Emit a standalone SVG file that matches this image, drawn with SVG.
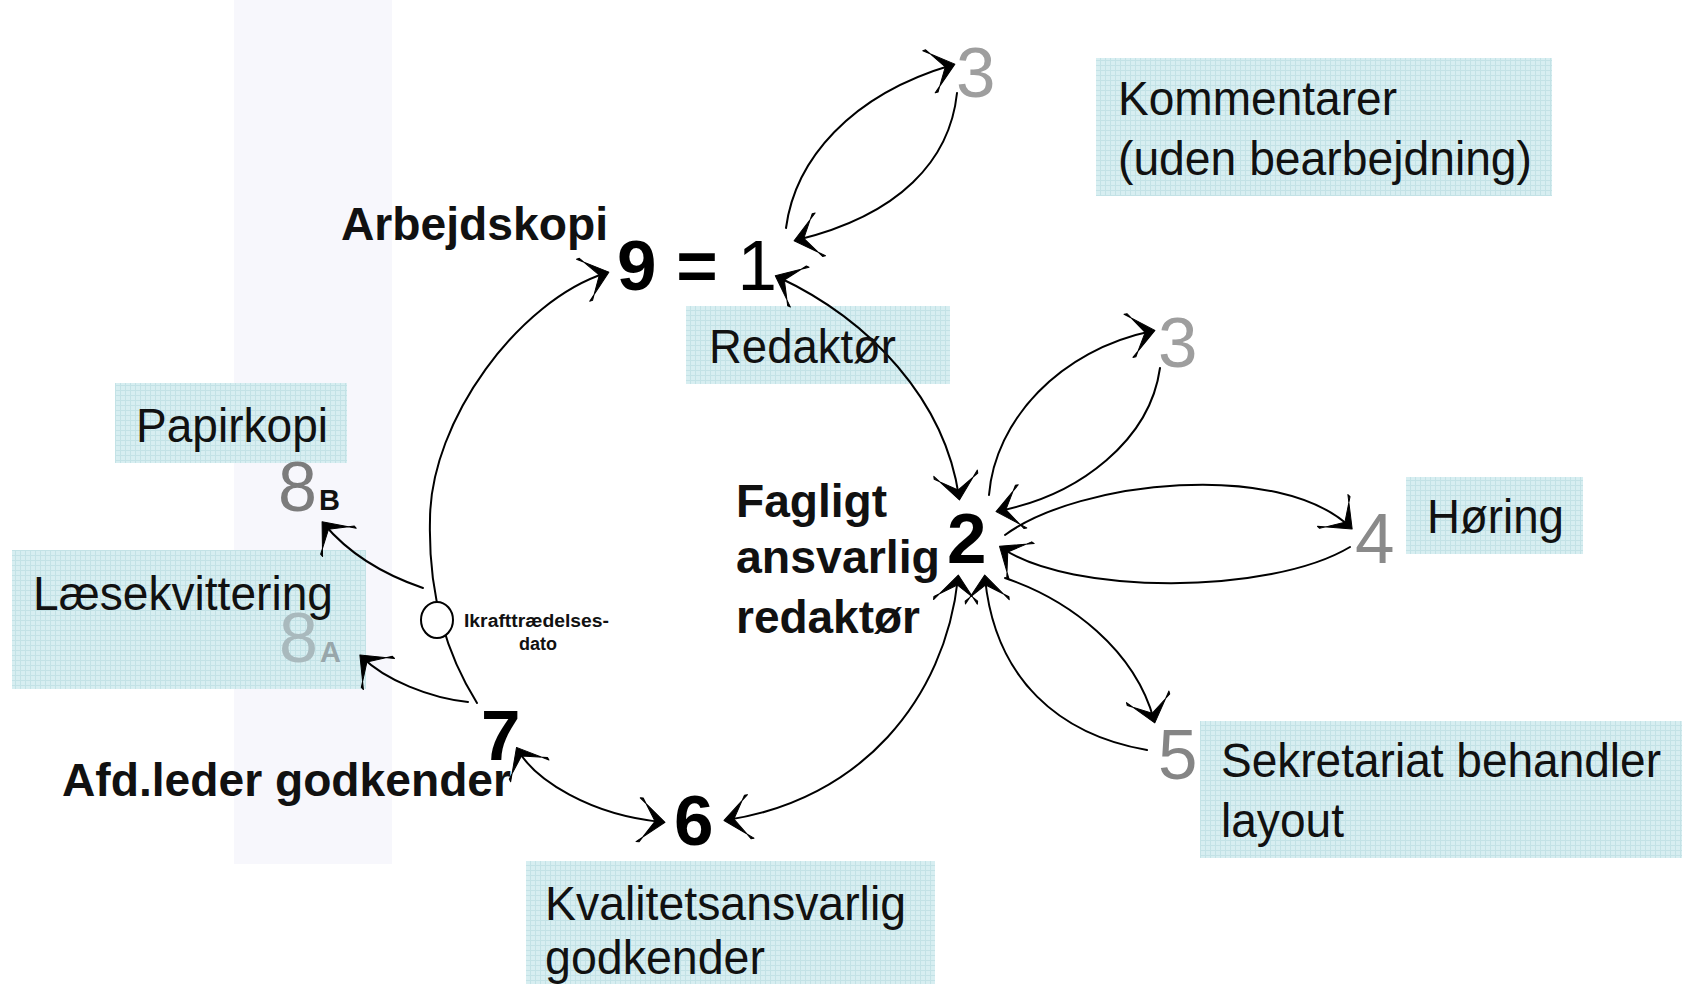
<svg xmlns="http://www.w3.org/2000/svg" width="1682" height="984" viewBox="0 0 1682 984">
<defs>
<pattern id="grid" width="5" height="5" patternUnits="userSpaceOnUse">
<rect width="5" height="5" fill="#d7eef1"/>
<path d="M0 0.5H5M0.5 0V5" stroke="#c3e2e6" stroke-width="1"/>
</pattern>
<marker id="ah" markerWidth="1" markerHeight="1" orient="auto-start-reverse" markerUnits="userSpaceOnUse" overflow="visible">
<path d="M-24 -22 L3 0 L-24 22 L-21 22 L-7 0 L-21 -22 Z" fill="#000" stroke="#000" stroke-width="1" stroke-linejoin="round"/>
</marker>
<style>
.t{font-family:"Liberation Sans",Arial,Helvetica,sans-serif;fill:#111;}
.reg{font-size:49px;}
.bold{font-size:46px;font-weight:bold;}
.big{font-size:71px;font-weight:bold;fill:#000;}
.gray{font-size:71px;fill:#9e9e9e;}
.box{fill:url(#grid);}
.c{fill:none;stroke:#000;stroke-width:2;stroke-linecap:round;}
</style>
</defs>
<rect width="1682" height="984" fill="#fff"/>
<rect x="234" y="0" width="158" height="864" fill="#f7f7fc"/>

<g id="boxes">
<rect id="box-redaktor" class="box" x="686" y="306" width="264" height="78"/>
<rect id="box-kommentarer" class="box" x="1096" y="58" width="456" height="138"/>
<rect id="box-horing" class="box" x="1406" y="477" width="177" height="77"/>
<rect id="box-sekretariat" class="box" x="1200" y="721" width="482" height="137"/>
<rect id="box-kvalitet" class="box" x="526" y="861" width="409" height="123"/>
<rect id="box-papirkopi" class="box" x="115" y="383" width="232" height="80"/>
<rect id="box-laese" class="box" x="12" y="550" width="354" height="139"/>
</g>

<g id="connectors">
<path class="c" d="M786 228 C795 160 850 95 952 65" marker-end="url(#ah)"/>
<path class="c" d="M957 93 C950 160 900 215 797 240" marker-end="url(#ah)"/>
<path class="c" d="M778 277 C870 320 945 400 959 497" stroke-width="1.6" marker-start="url(#ah)" marker-end="url(#ah)"/>
<path class="c" d="M477 703 C450 660 428 600 430 520 C430 420 520 300 606 273" marker-end="url(#ah)"/>
<path class="c" d="M423 588 C385 575 350 555 324 524" marker-end="url(#ah)"/>
<path class="c" d="M468 702 C430 698 385 680 362 657" marker-end="url(#ah)"/>
<path class="c" d="M518 750 C535 780 590 815 662 822" marker-start="url(#ah)" marker-end="url(#ah)"/>
<path class="c" d="M727 820 C860 800 945 700 958 578" marker-start="url(#ah)" marker-end="url(#ah)"/>
<path class="c" d="M989 495 C995 420 1060 350 1152 331" marker-end="url(#ah)"/>
<path class="c" d="M1160 368 C1150 440 1080 495 999 511" marker-end="url(#ah)"/>
<path class="c" d="M1005 535 C1080 480 1280 460 1350 527" marker-end="url(#ah)"/>
<path class="c" d="M1350 547 C1270 595 1070 595 1002 548" marker-end="url(#ah)"/>
<path class="c" d="M1005 578 C1070 600 1135 650 1154 720" marker-end="url(#ah)"/>
<path class="c" d="M1147 750 C1060 735 995 680 985 578" marker-end="url(#ah)"/>
</g>

<g id="node-1-9">
<text class="t bold" x="341" y="240" textLength="267" lengthAdjust="spacingAndGlyphs">Arbejdskopi</text>
<text class="t big" x="617" y="290">9 =<tspan font-weight="normal"> 1</tspan></text>
</g>

<g id="node-redaktor">
<text class="t reg" x="709" y="363" textLength="187" lengthAdjust="spacingAndGlyphs">Redaktør</text>
</g>

<g id="node-3-top">
<text class="t gray" x="956" y="97">3</text>
</g>

<g id="node-kommentarer">
<text class="t reg" x="1118" y="115" textLength="279" lengthAdjust="spacingAndGlyphs">Kommentarer</text>
<text class="t reg" x="1118" y="175" textLength="414" lengthAdjust="spacingAndGlyphs">(uden bearbejdning)</text>
</g>

<g id="node-2">
<text class="t bold" x="736" y="517" textLength="151" lengthAdjust="spacingAndGlyphs">Fagligt</text>
<text class="t bold" x="736" y="573" textLength="204" lengthAdjust="spacingAndGlyphs">ansvarlig</text>
<text class="t bold" x="736" y="633" textLength="184" lengthAdjust="spacingAndGlyphs">redaktør</text>
<text class="t big" x="947" y="563">2</text>
</g>

<g id="node-3-mid">
<text class="t gray" x="1158" y="367">3</text>
</g>

<g id="node-4">
<text class="t gray" x="1355" y="563" style="fill:#8a8a8a">4</text>
<text class="t reg" x="1427" y="533" textLength="137" lengthAdjust="spacingAndGlyphs">Høring</text>
</g>

<g id="node-5">
<text class="t gray" x="1158" y="779" style="fill:#858585">5</text>
<text class="t reg" x="1221" y="777" textLength="440" lengthAdjust="spacingAndGlyphs">Sekretariat behandler</text>
<text class="t reg" x="1221" y="837" textLength="123" lengthAdjust="spacingAndGlyphs">layout</text>
</g>

<g id="node-6">
<text class="t big" x="674" y="845">6</text>
<text class="t reg" x="545" y="920" textLength="361" lengthAdjust="spacingAndGlyphs">Kvalitetsansvarlig</text>
<text class="t reg" x="545" y="974" textLength="220" lengthAdjust="spacingAndGlyphs">godkender</text>
</g>

<g id="node-7">
<text class="t big" x="481" y="760">7</text>
<text class="t bold" x="62" y="796" textLength="449" lengthAdjust="spacingAndGlyphs">Afd.leder godkender</text>
</g>

<g id="node-8b">
<text class="t reg" x="136" y="442" textLength="192" lengthAdjust="spacingAndGlyphs">Papirkopi</text>
<text class="t" x="278" y="511" style="font-size:70px;fill:#7c7c7c">8</text>
<text class="t" x="319" y="510" style="font-size:29px;font-weight:bold;fill:#111">B</text>
</g>

<g id="node-8a">
<text class="t reg" x="33" y="610" textLength="300" lengthAdjust="spacingAndGlyphs">Læsekvittering</text>
<text class="t" x="279" y="662" style="font-size:70px;fill:#a9b9bd">8</text>
<text class="t" x="320" y="662" style="font-size:29px;font-weight:bold;fill:#98a6aa">A</text>
</g>

<g id="node-ikraft">
<ellipse cx="437" cy="620" rx="16" ry="18" fill="#fff" stroke="#000" stroke-width="2"/>
<text class="t" x="464" y="627" textLength="145" lengthAdjust="spacingAndGlyphs" style="font-size:18px;font-weight:bold">Ikrafttrædelses-</text>
<text class="t" x="538" y="650" text-anchor="middle" style="font-size:18px;font-weight:bold">dato</text>
</g>
</svg>
